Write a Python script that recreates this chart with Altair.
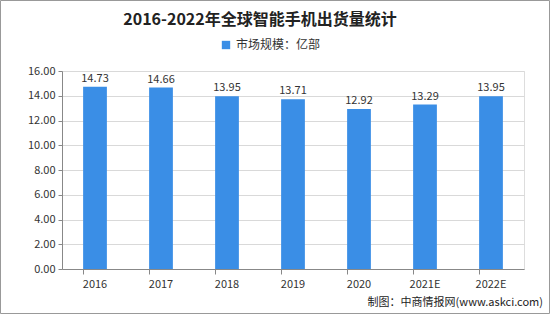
import altair as alt
import pandas as pd

years = ["2016", "2017", "2018", "2019", "2020", "2021E", "2022E"]
values = [14.73, 14.66, 13.95, 13.71, 12.92, 13.29, 13.95]
series_name = "市场规模：亿部"
title_text = "2016-2022年全球智能手机出货量统计"
footer_text = "制图：中商情报网(www.askci.com)"

df = pd.DataFrame({"year": years, "value": values, "series": [series_name] * len(years)})
df["label"] = [f"{v:.2f}" for v in values]

FONT = "Noto Sans CJK SC"
BLUE = "#3a8ee6"

x_enc = alt.X("year:N", sort=years, title=None,
              scale=alt.Scale(paddingInner=0.64, paddingOuter=0.32),
              axis=alt.Axis(labelAngle=0, labelFont=FONT, labelFontSize=11, labelColor="#333",
                            domainColor="#888", tickColor="#888", tickSize=5, bandPosition=0,
                            labelPadding=4, grid=False))
y_enc = alt.Y("value:Q", title=None,
              scale=alt.Scale(domain=[0, 16], nice=False),
              axis=alt.Axis(values=[0, 2, 4, 6, 8, 10, 12, 14, 16], format=".2f",
                            labelOverlap=False, tickCount=9,
                            labelFont=FONT, labelFontSize=11, labelColor="#333",
                            domainColor="#888", tickColor="#888", tickSize=4,
                            gridColor="#d9d9d9", labelPadding=3))

base = alt.Chart(df)

bars = base.mark_bar(color=BLUE).encode(
    x=x_enc,
    y=y_enc,
    color=alt.Color("series:N", scale=alt.Scale(range=[BLUE]),
                    legend=alt.Legend(title=None, orient="none", legendX=158, legendY=-32,
                                      symbolType="square", symbolSize=70, symbolStrokeWidth=0,
                                      labelFont=FONT, labelFontSize=12, labelColor="#333")),
)

labels = base.mark_text(dy=-8, font=FONT, fontSize=11, color="#333").encode(
    x=x_enc,
    y=y_enc,
    text="label:N",
)

title = alt.Chart(pd.DataFrame({"t": [title_text]})).mark_text(
    font=FONT, fontSize=16, fontWeight="bold", color="#222", align="center", baseline="middle"
).encode(x=alt.value(198), y=alt.value(-51), text="t:N")

footer = alt.Chart(pd.DataFrame({"t": [footer_text]})).mark_text(
    font=FONT, fontSize=11, color="#222", align="right", baseline="middle"
).encode(x=alt.value(481), y=alt.value(232), text="t:N")

border = alt.Chart(pd.DataFrame({"a": [0]})).mark_rect(
    fill=None, stroke="#999", strokeWidth=1
).encode(x=alt.value(-61.5), x2=alt.value(487.5), y=alt.value(-70.5), y2=alt.value(242.5))

chart = alt.layer(bars, labels, title, footer, border).properties(
    width=462, height=198,
    autosize=alt.AutoSizeParams(type="none"),
    padding={"left": 62, "top": 71, "right": 26, "bottom": 45},
).configure_view(stroke=None).configure(background="white")

chart.save("out.html", embed_options={"renderer": "svg", "actions": False})
